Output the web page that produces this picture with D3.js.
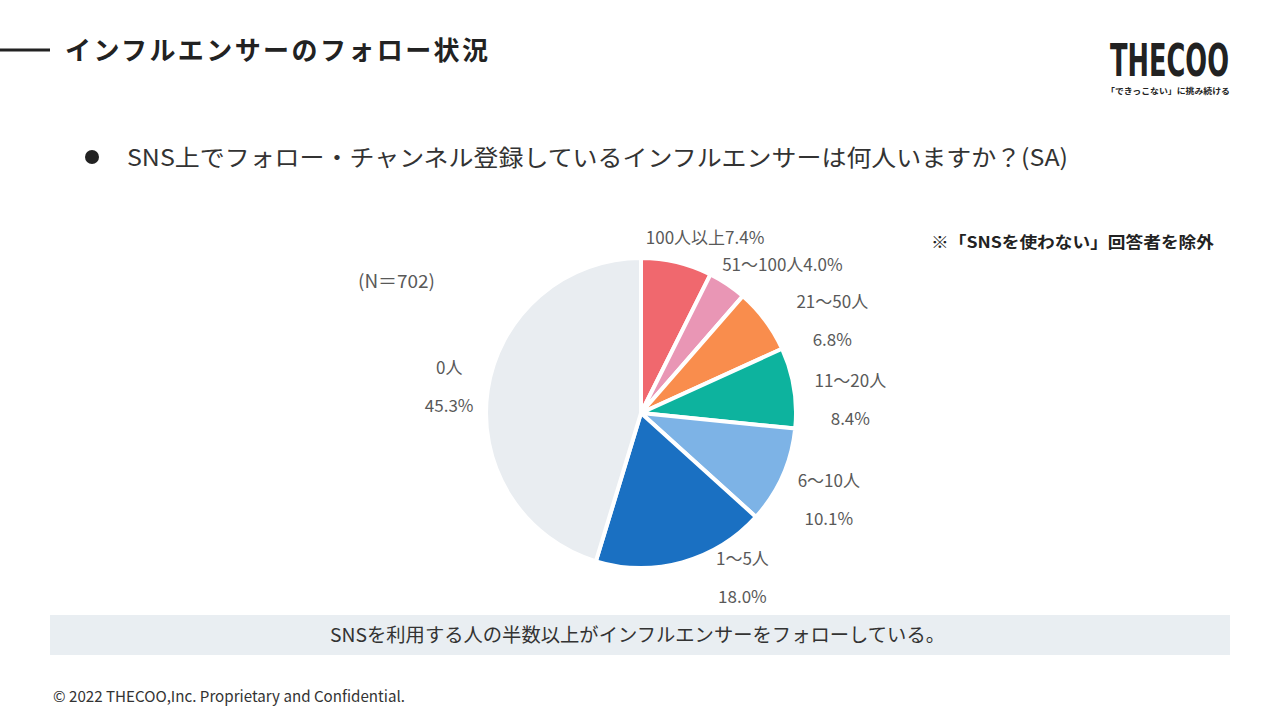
<!DOCTYPE html>
<html>
<head>
<meta charset="utf-8">
<script src="https://cdn.jsdelivr.net/npm/d3@7"></script>
<style>
  body { margin: 0; background: #fff; }
  svg { display: block; font-family: "Noto Sans CJK JP", "Noto Sans", sans-serif; }
</style>
</head>
<body>
<svg id="chart"></svg>
<script>
// data //
var categories = ["100人以上", "51〜100人", "21〜50人", "11〜20人", "6〜10人", "1〜5人", "0人"];
var values = [7.4, 4.0, 6.8, 8.4, 10.1, 18.0, 45.3];
var pctLabels = ["7.4%", "4.0%", "6.8%", "8.4%", "10.1%", "18.0%", "45.3%"];
var oneLine = [true, true, false, false, false, false, false];
var colors = ["#F0686E", "#E996B5", "#F98D4D", "#0DB39E", "#7DB3E6", "#1A70C2", "#E9EDF1"];

var sampleText = "(N＝702)";
var titleText = "インフルエンサーのフォロー状況";
var questionText = "SNS上でフォロー・チャンネル登録しているインフルエンサーは何人いますか？(SA)";
var noteText = "※「SNSを使わない」回答者を除外";
var summaryText = "SNSを利用する人の半数以上がインフルエンサーをフォローしている。";
var footerText = "© 2022 THECOO,Inc. Proprietary and Confidential.";

// layout //
var screen = { width: 1280, height: 720 };
var pieCenter = { x: 641, y: 413 };
var radius = 155;
var labelRadius = 200;
// small nudges so labels sit where the original's best-fit put them
var labelNudge = [[18, 20], [30, 18], [31, 28], [12, 20], [5, 6], [48, -28], [6, 3]];

var svg = d3.select("#chart").attr("width", screen.width).attr("height", screen.height);

// header //
svg.append("line")
  .attr("x1", 0).attr("x2", 50)
  .attr("y1", 50).attr("y2", 50)
  .attr("stroke", "#222").attr("stroke-width", 3);

svg.append("text")
  .text(titleText)
  .attr("x", 65).attr("y", 60)
  .attr("font-size", 26).attr("font-weight", 700)
  .attr("fill", "#222")
  .attr("textLength", 423).attr("lengthAdjust", "spacing");

// logo: squeeze horizontally with a transform so it keeps its height //
var logoWidth = 119;
var logo = svg.append("g");
var logoText = logo.append("text")
  .text("THECOO")
  .attr("x", 0).attr("y", 0)
  .attr("font-family", "'Liberation Sans Narrow', 'DejaVu Sans Condensed', sans-serif")
  .attr("font-size", 44).attr("font-weight", 700)
  .attr("fill", "#222");
var natural = logoText.node().getComputedTextLength();
logo.attr("transform", "translate(1110,76) scale(" + (logoWidth / natural) + ",1)");

svg.append("text")
  .text("「できっこない」に挑み続ける")
  .attr("x", 1106).attr("y", 94)
  .attr("font-size", 8).attr("font-weight", 700)
  .attr("fill", "#222")
  .attr("textLength", 124).attr("lengthAdjust", "spacingAndGlyphs");

// question //
svg.append("circle")
  .attr("cx", 92).attr("cy", 157).attr("r", 7)
  .attr("fill", "#222");

svg.append("text")
  .text(questionText)
  .attr("x", 127).attr("y", 166)
  .attr("font-size", 23)
  .attr("fill", "#333")
  .attr("textLength", 941).attr("lengthAdjust", "spacingAndGlyphs");

svg.append("text")
  .text(noteText)
  .attr("x", 931).attr("y", 248)
  .attr("font-size", 16).attr("font-weight", 700)
  .attr("fill", "#222")
  .attr("textLength", 283).attr("lengthAdjust", "spacingAndGlyphs");

svg.append("text")
  .text(sampleText)
  .attr("x", 358).attr("y", 288)
  .attr("font-size", 18)
  .attr("fill", "#595959")
  .attr("textLength", 77).attr("lengthAdjust", "spacingAndGlyphs");

// pie //
var pie = d3.pie().sort(null).value(function (d) { return d; });
var arcs = pie(values);
var arc = d3.arc().innerRadius(0).outerRadius(radius);
var labelArc = d3.arc().innerRadius(labelRadius).outerRadius(labelRadius);

var g = svg.append("g")
  .classed("graph", true)
  .attr("transform", "translate(" + pieCenter.x + "," + pieCenter.y + ")");

g.selectAll("path")
  .data(arcs)
  .enter()
  .append("path")
  .attr("d", arc)
  .attr("fill", function (d, i) { return colors[i]; })
  .attr("stroke", "#fff")
  .attr("stroke-width", 4)
  .attr("stroke-linejoin", "round");

var labels = g.selectAll("g.lbl")
  .data(arcs)
  .enter()
  .append("g")
  .classed("lbl", true)
  .attr("transform", function (d, i) {
    var c = labelArc.centroid(d);
    return "translate(" + (c[0] + labelNudge[i][0]) + "," + (c[1] + labelNudge[i][1]) + ")";
  });

labels.each(function (d, i) {
  var lbl = d3.select(this);
  if (oneLine[i]) {
    lbl.append("text")
      .text(categories[i] + pctLabels[i])
      .attr("text-anchor", "middle")
      .attr("y", 6)
      .attr("font-size", 17)
      .attr("fill", "#595959");
  } else {
    lbl.append("text")
      .text(categories[i])
      .attr("text-anchor", "middle")
      .attr("y", -13)
      .attr("font-size", 17)
      .attr("fill", "#595959");
    lbl.append("text")
      .text(pctLabels[i])
      .attr("text-anchor", "middle")
      .attr("y", 25)
      .attr("font-size", 17)
      .attr("fill", "#595959");
  }
});

// summary box //
svg.append("rect")
  .attr("x", 50).attr("y", 615)
  .attr("width", 1180).attr("height", 40)
  .attr("fill", "#E9EEF2");

svg.append("text")
  .text(summaryText)
  .attr("x", 330).attr("y", 642)
  .attr("font-size", 19)
  .attr("fill", "#333")
  .attr("textLength", 615).attr("lengthAdjust", "spacingAndGlyphs");

// footer //
svg.append("text")
  .text(footerText)
  .attr("x", 53).attr("y", 702)
  .attr("font-size", 15)
  .attr("fill", "#333")
  .attr("textLength", 352).attr("lengthAdjust", "spacingAndGlyphs");
</script>
</body>
</html>
